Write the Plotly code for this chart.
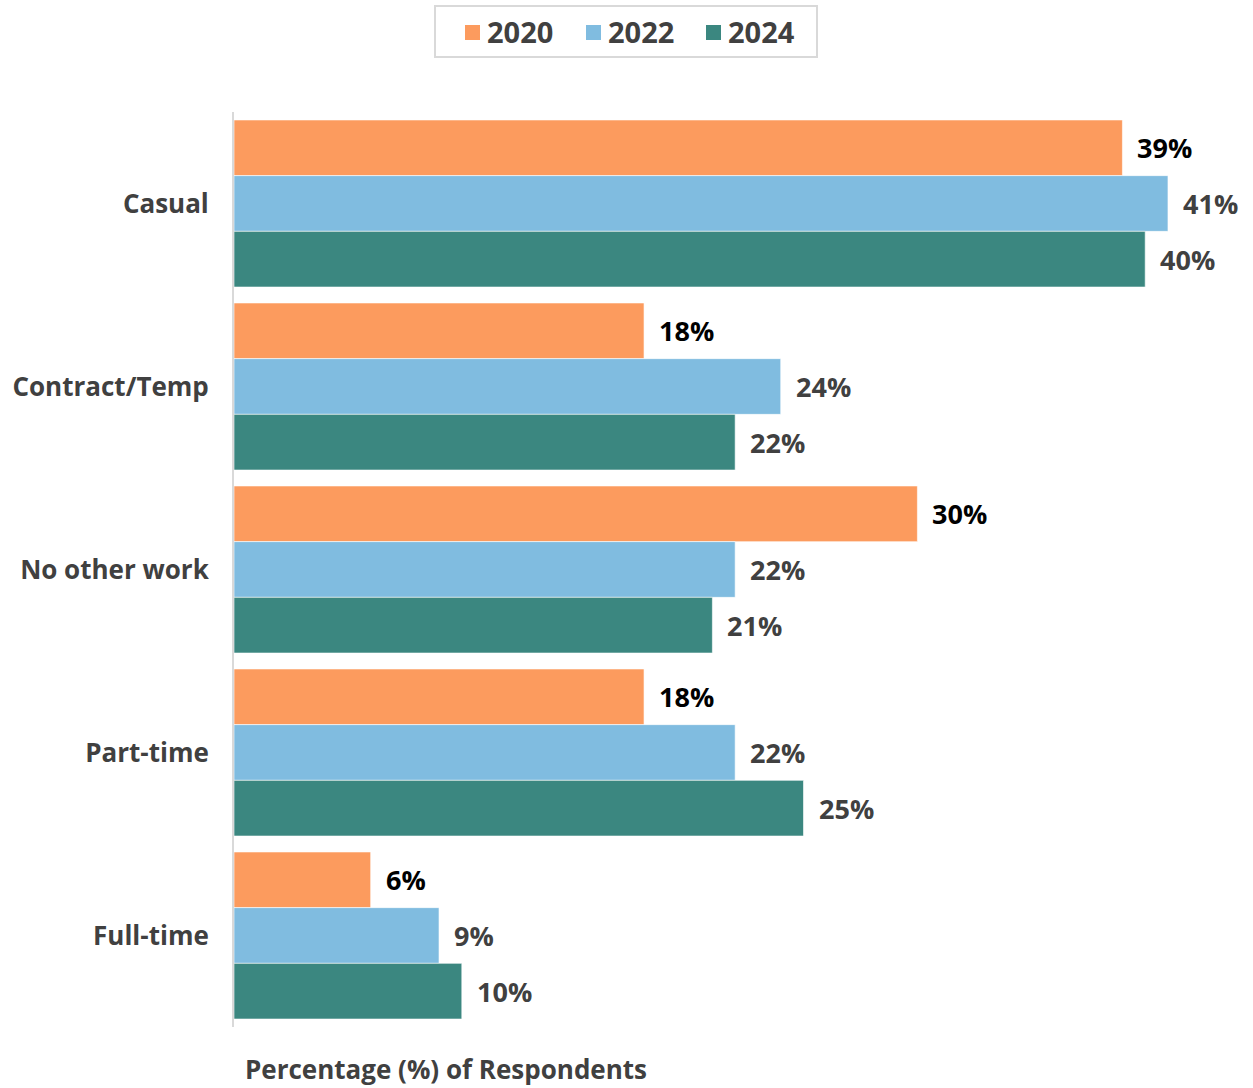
import plotly.graph_objects as go

# Employment type of respondents' other work, by survey year
categories = ["Casual", "Contract/Temp", "No other work", "Part-time", "Full-time"]
years = ["2020", "2022", "2024"]
values_2020 = [39, 18, 30, 18, 6]
values_2022 = [41, 24, 22, 22, 9]
values_2024 = [40, 22, 21, 25, 10]

series = [values_2020, values_2022, values_2024]
colors = ["#FC9B5E", "#80BCE0", "#3B8780"]
label_colors = ["#000000", "#404040", "#404040"]

FONT = "Open Sans"
TEXT_GREY = "#404040"

# figure geometry (pixels)
W, H = 1253, 1088
ML, MR, MT, MB = 234, 0, 112, 61
PW, PH = W - ML - MR, H - MT - MB
BARGAP = 0.087


def px_x(px):
    return (px - ML) / PW


def px_y(py):
    return 1 - (py - MT) / PH


fig = go.Figure()
for year, vals, col in zip(years, series, colors):
    fig.add_trace(go.Bar(
        name=year,
        y=categories,
        x=vals,
        orientation="h",
        marker=dict(color=col, line=dict(color="white", width=0.6)),
        hoverinfo="skip",
        showlegend=False,
    ))

fig.update_layout(
    barmode="group",
    bargap=BARGAP,
    bargroupgap=0,
    width=W,
    height=H,
    margin=dict(l=ML, r=MR, t=MT, b=MB),
    paper_bgcolor="white",
    plot_bgcolor="white",
    font=dict(family=FONT, color=TEXT_GREY, size=26, weight="bold"),
    xaxis=dict(
        range=[0, PW / 22.78],
        showgrid=False, zeroline=False, showticklabels=False,
        showline=False, ticks="",
        fixedrange=True,
    ),
    yaxis=dict(
        autorange="reversed",
        showgrid=False, zeroline=False,
        showline=True, linecolor="#D9D9D9", linewidth=2,
        ticks="", ticklabelstandoff=18,
        tickfont=dict(family=FONT, size=26, color=TEXT_GREY, weight="bold"),
    ),
)

annotations = []
shapes = []

# Bar value labels, placed just past the end of each bar
n = len(years)
group_width = 1 - BARGAP
bar_w = group_width / n
for i, (vals, lc) in enumerate(zip(series, label_colors)):
    offset = -group_width / 2 + bar_w * (i + 0.5)
    for j, v in enumerate(vals):
        annotations.append(dict(
            x=v, y=j + offset, xref="x", yref="y",
            text=f"{v}%", showarrow=False,
            xanchor="left", yanchor="middle", xshift=13,
            font=dict(family=FONT, size=27, color=lc, weight="bold"),
        ))

# Axis title below the bars
annotations.append(dict(
    x=px_x(243), y=px_y(1069), xref="paper", yref="paper",
    text="Percentage (%) of Respondents", showarrow=False,
    xanchor="left", yanchor="middle",
    font=dict(family=FONT, size=26, color=TEXT_GREY, weight="bold"),
))

# Boxed legend across the top
shapes.append(dict(
    type="rect", xref="paper", yref="paper",
    x0=px_x(435), x1=px_x(817), y0=px_y(57), y1=px_y(6),
    line=dict(color="#D9D9D9", width=2), fillcolor="white", layer="above",
))
legend_x = [465, 586, 706]
for year, col, lx in zip(years, colors, legend_x):
    shapes.append(dict(
        type="rect", xref="paper", yref="paper",
        x0=px_x(lx), x1=px_x(lx + 15), y0=px_y(40), y1=px_y(25),
        line=dict(width=0), fillcolor=col, layer="above",
    ))
    annotations.append(dict(
        x=px_x(lx + 20), y=px_y(32), xref="paper", yref="paper",
        text=year, showarrow=False, xanchor="left", yanchor="middle",
        font=dict(family=FONT, size=29, color=TEXT_GREY, weight="bold"),
    ))

fig.update_layout(annotations=annotations, shapes=shapes)
fig.write_html("out.html")
